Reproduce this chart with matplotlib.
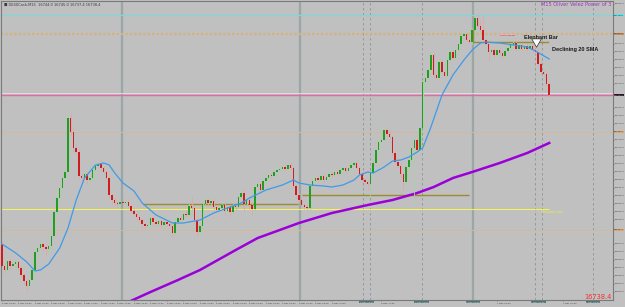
import matplotlib
matplotlib.use("Agg")
import matplotlib.pyplot as plt
import matplotlib.transforms as mtransforms
import numpy as np
import pandas as pd

# M15 closes, one per bar (open = previous close)
closes = [16653, 16651, 16655.5, 16653, 16654, 16655, 16652, 16648.5, 16645.5, 16643,
          16646, 16651, 16660, 16662, 16664, 16662.5, 16661.5, 16663, 16668, 16680,
          16687, 16692, 16697, 16700, 16727, 16720, 16712, 16710, 16698, 16697,
          16699, 16696, 16697, 16701, 16703, 16704, 16702, 16700, 16697, 16688.5,
          16686, 16684.5, 16684, 16685, 16684.5, 16685, 16683, 16680.5, 16679, 16677.5,
          16676, 16674, 16673, 16673.5, 16677, 16675, 16674, 16675.5, 16673.5, 16675,
          16674, 16673, 16669.5, 16675, 16677, 16676, 16679, 16678.5, 16683, 16682,
          16676, 16670, 16673, 16684, 16686, 16684.5, 16685.5, 16682.5, 16681, 16682,
          16683.5, 16680.5, 16682.5, 16680, 16683, 16682.5, 16687.5, 16689.5, 16684, 16686,
          16683.5, 16681.5, 16692.5, 16694, 16691, 16695.5, 16697, 16698.5, 16698, 16700,
          16701, 16701.5, 16702.5, 16701.5, 16703.5, 16702, 16693, 16688.5, 16686, 16683.5,
          16682.5, 16682, 16693, 16695.5, 16697, 16696, 16698, 16696, 16697.5, 16699,
          16698.5, 16700, 16699, 16701, 16702, 16700.5, 16702, 16703.5, 16704.5, 16702,
          16699, 16696, 16695, 16694, 16699.5, 16704.5, 16711, 16715, 16716, 16721,
          16719, 16717.5, 16709.5, 16705, 16703, 16699, 16695, 16702.5, 16706, 16712,
          16716, 16711, 16722, 16745, 16747, 16751, 16758.5, 16748.5, 16747, 16755,
          16750, 16748, 16756, 16760, 16757, 16761, 16764, 16768, 16769, 16766,
          16765, 16771, 16777, 16773, 16771, 16766, 16764, 16760, 16761, 16758.5,
          16761, 16759.5, 16758, 16760.5, 16762, 16763.5, 16764.5, 16761.5, 16763.5, 16761.5,
          16763, 16761.5, 16763, 16761, 16760, 16754, 16750, 16749, 16744, 16738.4]
first_open = 16663.5

# wick lengths above / below the body
up_wick = [2, 1.5, 2, 1, 1.5, 2, 1, 1.5, 1, 1,
           1, 1, 2, 1.5, 2, 1, 1.5, 1, 1, 1.5,
           1, 2, 1, 1.5, 6.5, 3, 2, 2, 1.5, 1,
           2, 1, 2, 1, 1.5, 1, 2, 1, 1, 1,
           1, 1.5, 1, 2, 1, 1, 1, 1, 1.5, 1,
           1, 1, 1, 1.5, 2, 1, 1.5, 2, 1, 2,
           1, 1.5, 1, 2, 1, 1.5, 1, 2, 1.5, 4.5,
           1, 1, 1, 1, 1.5, 1, 4, 1, 1, 1.5,
           1.5, 1, 1, 1, 1.5, 1, 1.5, 1, 2.5, 1,
           1, 1, 1, 1.5, 1, 1, 1, 1, 1, 1,
           1, 1, 1.5, 1, 1, 1.5, 1, 1, 1, 1,
           1, 1, 1, 1, 1.5, 1, 1, 1, 1, 1.5,
           1, 1, 1, 1.5, 1, 1, 1, 2.5, 2.5, 1,
           1, 1, 1, 1, 1, 1, 1, 1.5, 8.5, 4,
           1.5, 2, 1, 1, 1, 1.5, 1, 1, 1, 1,
           1, 1, 1, 1.5, 1, 2, 1, 1.5, 1, 1,
           1, 1, 1, 1, 1, 1, 1, 1.5, 1, 1,
           1, 1, 2, 2, 3, 7, 1, 1, 1, 1,
           1, 1, 1, 1, 1, 1, 1.5, 1, 1, 1,
           1, 1, 1, 1, 1, 2, 1.5, 1, 1, 1]
down_wick = [2, 1.5, 1, 2, 1, 3, 1.5, 1, 2, 3,
             1, 1.5, 1, 2, 1, 2, 3, 2, 1, 1,
             1, 1, 2, 1, 1, 2, 2, 1, 1, 2,
             1, 2, 1, 1, 1, 1, 1.5, 1, 1, 1.5,
             2, 1, 1.5, 1, 1, 2, 1, 1, 1, 1.5,
             1, 2, 1.5, 1, 1, 2, 1, 1, 1.5, 1,
             1, 1, 2, 1, 2, 1, 1, 1, 1, 1,
             1.5, 2, 1.5, 1, 1, 1.5, 1, 1.5, 1, 1,
             1, 2, 1, 2.5, 1, 1.5, 1, 1, 3.5, 1,
             2, 3, 1, 1, 2, 1, 1, 1, 1, 1,
             1, 1, 1, 1, 1, 1, 1, 1.5, 1, 1.5,
             1, 1, 2, 1, 1, 1, 1, 1.5, 1, 1,
             1, 1, 1, 1, 1, 1, 1, 1, 1, 1,
             1, 1.5, 1, 3, 6.5, 1, 1, 1, 1, 1,
             1, 1, 1.5, 1, 1, 2, 4, 1, 1.5, 1,
             26, 1, 1.5, 3, 4, 3, 3, 1.5, 1, 1,
             1, 1, 1, 1, 1, 1, 1, 1, 1, 1,
             1, 1, 1, 1, 1, 1, 1, 5, 1, 1.5,
             1, 1, 1, 1, 1, 1, 1, 1, 1, 1,
             1, 1, 1, 1, 1, 1, 1, 1.5, 1, 1]

# 20 SMA (blue) and slow SMA (purple) at bar indices
sma20_bar = [0, 5, 9, 12, 14, 17, 21, 24, 27, 30, 34, 37, 39, 41, 44, 48, 51, 56, 62, 66,
             70, 72, 77, 82, 87, 90, 96, 102, 106, 108, 112, 117, 120, 124, 128, 130, 133, 135, 139, 142,
             145, 148, 151, 153, 156, 160, 164, 168, 171, 174, 176, 181, 186, 191, 194, 199]
sma20_val = [16664, 16659.5, 16655, 16650.5, 16651, 16654, 16662, 16672, 16686, 16697,
             16703.5, 16704.5, 16703.5, 16699.5, 16694.5, 16690.5, 16684.5, 16678.5, 16674.5, 16674.5,
             16675.5, 16676, 16679.5, 16682, 16684.5, 16687, 16691, 16693.5, 16696, 16694.5,
             16693.5, 16693, 16692.5, 16693.5, 16696, 16698.5, 16700, 16699.5, 16702.5, 16705.5,
             16706, 16707.5, 16710, 16712, 16722.5, 16738.5, 16748.5, 16756, 16761, 16764.5,
             16765, 16764.5, 16763.5, 16762.5, 16760.5, 16756.5]
sma_slow_bar = [46, 54, 64, 72, 85, 93, 108, 120, 133, 142, 151, 157, 164, 171, 181, 191, 199]
sma_slow_val = [16635, 16640, 16646, 16651, 16661, 16667, 16674.5, 16679.5, 16683.5, 16686,
                16689.5, 16692.5, 16697, 16700, 16704.5, 16709.5, 16714.5]

# horizontal levels
high_level = 16778.5
prev_high = 16769
upper_zone = 16720
lower_zone = 16671
yest_low = 16681.5
bid = closes[-1]
ask = 16739.5

opens = [first_open] + closes[:-1]
idx = np.arange(len(closes))
o = np.array(opens)
c = np.array(closes)
top = np.maximum(o, c)
bot = np.minimum(o, c)
hi = top + np.array(up_wick)
lo = bot - np.array(down_wick)
up = c >= o

bg = "#c0c0c0"
fig = plt.figure(figsize=(6.25, 3.07), dpi=100, facecolor=bg)
ax = fig.add_axes([1 / 625, 7 / 307, 612 / 625, 299 / 307], facecolor=bg)
ax.set_xlim(-0.36, 222.2)
ax.set_ylim(16636, 16785.5)

# period separators
for b in [43.6, 108.4, 171.3]:
    ax.axvline(b, color="#9ba7a7", lw=1.6, zorder=1)
for b in [131.3, 133.8, 152.7, 193.8, 196.4, 214.9]:
    ax.axvline(b, color="#8c9494", lw=0.6, ls=(0, (3, 3)), zorder=1)

# levels
ax.axhline(high_level, color="#7ed6de", lw=0.9, zorder=1)
ax.axhline(prev_high, color="#d6b274", lw=1.6, ls=(0, (1, 1)), zorder=1)
ax.axhline(upper_zone, color="#d4b89c", lw=0.7, zorder=1)
ax.axhline(lower_zone, color="#d4b89c", lw=0.7, zorder=1)
ax.axhline(ask, color="#e2e2e2", lw=0.6, zorder=1)
ax.axhline(bid, color="#e06aa8", lw=1.0, zorder=1)
ax.hlines(yest_low, -0.36, 199, color="#f2f25a", lw=0.8, zorder=1)
ax.hlines(16684, 51.3, 107.6, color="#9a8c2e", lw=1.0, zorder=2)
ax.hlines(16688.5, 109, 170, color="#9a8c2e", lw=1.0, zorder=2)
ax.plot([171.3, 171.3, 198.5], [16771, 16765, 16765], color="#9a8c2e", lw=1.0, zorder=2)

# indicators
ax.plot(sma_slow_bar, sma_slow_val, color="#9a00d8", lw=1.8, zorder=3)
ax.plot(sma20_bar, sma20_val, color="#3d9be9", lw=0.9, zorder=5)

# candles
wick_col = np.where(up, "#a9cfa9", "#dba9a9")
ax.vlines(idx, lo, hi, colors=wick_col, lw=0.6, zorder=4)
body_h = np.maximum(top - bot, 0.3)
ax.bar(idx, body_h, bottom=bot, width=0.55,
       color=np.where(up, "#1f9e1f", "#d01c1c"), lw=0, zorder=4)

# annotations
ax.text(181.1, 16768.5, "Last Elephant", fontsize=1.6, color="#c02020", va="center",
        bbox=dict(boxstyle="square,pad=0.2", fc="#e3b4b4", ec="none"), zorder=6)
ax.text(189.8, 16767.5, "Elephant Bar", fontsize=4, fontweight="bold", color="#1a1a1a",
        family="Liberation Sans", va="center", zorder=6)
ax.text(200, 16761, "Declining 20 SMA", fontsize=4, fontweight="bold", color="#1a1a1a",
        family="Liberation Sans", va="center", zorder=6)
ax.annotate("", xy=(194.4, 16761), xytext=(194.4, 16765.5),
            arrowprops=dict(arrowstyle="simple,head_width=0.7,head_length=0.6,tail_width=0.35",
                            fc="white", ec="#303030", lw=0.5), zorder=6)
ax.text(196, yest_low - 1.6, "Yesterday's Low", fontsize=2.0, color="#f0f040", va="center")

# right price scale, with tags for the levels
tags = [(high_level, "#5fe0e4"), (prev_high, "#d08a4c"), (upper_zone, "#e0a464"),
        (lower_zone, "#e0a464"), (bid, "#202020")]
ax.yaxis.tick_right()
yt = [v for v in np.arange(16640, 16785, 4) if all(abs(v - p) > 3 for p, _ in tags)]
ax.set_yticks(yt)
ax.set_yticklabels([f"{v:.1f}" for v in yt])
ax.tick_params(axis="y", labelsize=1.7, labelcolor="#3a3a3a", length=1.0, width=0.4,
               color="#606060", pad=0.6)
yx = mtransforms.blended_transform_factory(ax.transAxes, ax.transData)
for price, col in tags:
    ax.text(1.002, price, f"{price:.1f}", transform=yx, fontsize=1.7, va="center", ha="left",
            color="#ff70b0" if col == "#202020" else "#202020",
            bbox=dict(boxstyle="square,pad=0.2", fc=col, ec="none"), clip_on=False)

# time scale, highlighted times for the marked bars
times = pd.date_range("2023-12-05 04:00", periods=224, freq="15min")
marks = [132.5, 152.7, 171.3, 195.0, 214.9]
xt = [i for i in range(0, 216, 6) if all(abs(i + 2.5 - m) > 7 for m in marks)]
ax.set_xticks(xt)
ax.set_xticklabels([f"{times[i].day} {times[i]:%b} {times[i]:%H:%M}" for i in xt], ha="left")
ax.tick_params(axis="x", labelsize=1.6, labelcolor="#3a3a3a", length=1.0, width=0.4,
               color="#606060", pad=0.8)
xy = mtransforms.blended_transform_factory(ax.transData, ax.transAxes)
for b in marks:
    t = times[int(round(b))]
    ax.text(b, -0.006, f"{t.day} {t:%b} {t:%H:%M}", transform=xy, fontsize=1.6, ha="center",
            va="top", color="#d8e0e0", clip_on=False,
            bbox=dict(boxstyle="square,pad=0.3", fc="#4d7676", ec="none"))

for s in ax.spines.values():
    s.set_color("#7a7a7a")
    s.set_linewidth(0.8)

fig.text(4 / 625, 1 - 5 / 307,
         f"\u25a0 DE40Cash,M15  {opens[-1]:.1f} {hi[-1]:.1f} {lo[-1]:.1f} {closes[-1]:.1f}",
         fontsize=2.6, color="#3c3c3c", va="center")
fig.text(611 / 625, 1 - 5 / 307, "M15 Oliver Velez Power of 3", fontsize=3.6,
         color="#a030c0", ha="right", va="center")
fig.text(612 / 625, 10 / 307, f"{closes[-1]:.1f}", fontsize=4.8, color="#ff2a2a",
         ha="right", va="center")

fig.savefig("out.png", dpi=100, facecolor=bg)
